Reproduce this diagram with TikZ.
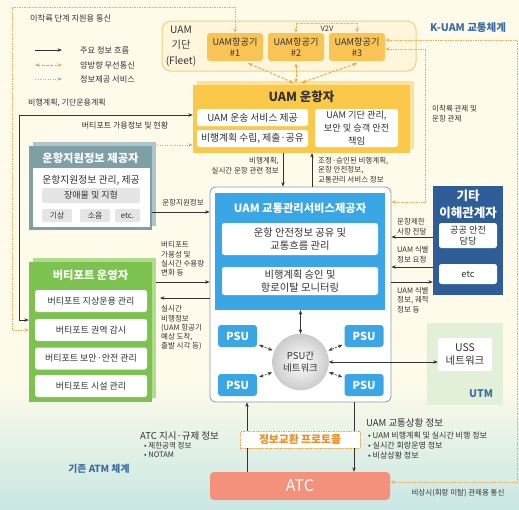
\documentclass[tikz,border=0pt]{standalone}
\usepackage{fontspec}
\setmainfont{Noto Sans CJK KR}
\usetikzlibrary{arrows.meta,calc,shadings}
\definecolor{cream}{HTML}{FFFBEA}
\definecolor{tealbg}{HTML}{C9E7E2}
\definecolor{txt}{HTML}{333333}
\definecolor{orangeln}{HTML}{F5A33A}
\definecolor{dotor}{HTML}{F2AE4E}
\definecolor{lblue}{HTML}{8FB3D0}
\definecolor{acfill}{HTML}{F9C456}
\definecolor{fleetfill}{HTML}{FFF6DC}
\definecolor{fleetdraw}{HTML}{F6CF7A}
\definecolor{opsfill}{HTML}{FBC94A}
\definecolor{opsback}{HTML}{FFE295}
\definecolor{tmblue}{HTML}{3BA6E6}
\definecolor{tmdraw}{HTML}{8D9BA8}
\definecolor{stakec}{HTML}{2E5D98}
\definecolor{provf}{HTML}{7F9FA6}
\definecolor{provb}{HTML}{AFC5C8}
\definecolor{grayb}{HTML}{E5E5E5}
\definecolor{vpf}{HTML}{7CC24E}
\definecolor{vpb}{HTML}{B0DC8E}
\definecolor{atcc}{HTML}{F4917C}
\definecolor{utmg}{HTML}{E2F0DA}
\definecolor{titleblue}{HTML}{3A6EA8}
\definecolor{protor}{HTML}{F08C1E}
\newcommand\fsz[2]{\fontsize{#1}{#2}\selectfont}
\begin{document}
\begin{tikzpicture}[x=1pt,y=-1pt,
  >={Stealth[length=4.5pt,width=3.4pt]},
  arr/.style={draw=txt, line width=0.6pt, ->},
  darr/.style={draw=txt, line width=0.6pt, <->},
  orarr/.style={draw=orangeln, line width=0.9pt, dash pattern=on 2.6pt off 1.6pt, <->},
  kdot/.style={draw=dotor, line width=0.8pt, dash pattern=on 1.2pt off 1.3pt},
  bldot/.style={draw=lblue, line width=0.8pt, dash pattern=on 1.2pt off 1.3pt, ->},
  psud/.style={draw=txt, line width=0.6pt, dash pattern=on 2pt off 1.2pt, <->, shorten <=2pt, shorten >=2pt},
  wb/.style={fill=white, rounded corners=2.5pt, inner sep=0pt, align=center, text=txt, font=\fsz{9}{12.5}},
  gb/.style={fill=grayb, rounded corners=1.5pt, inner sep=0pt, align=center, text=txt, font=\fsz{9}{10}},
  lbl/.style={inner sep=0pt, align=left, text=txt, font=\fsz{7.5}{9.8}},
  ttl/.style={inner sep=0pt, align=center, text=white, font=\bfseries\fsz{11.3}{14}},
  lgd/.style={inner sep=0pt, anchor=west, text=txt, font=\fsz{8.2}{9}},
  acbox/.style={fill=acfill, rounded corners=3pt, minimum width=56pt, minimum height=28pt, inner sep=0pt, align=center, text=txt, font=\fsz{9.2}{11.5}},
  psubox/.style={fill=tmblue, rounded corners=3pt, minimum width=39pt, minimum height=22pt, inner sep=0pt, text=white, font=\bfseries\fsz{11}{12}},
  bigtxt/.style={inner sep=0pt, text=txt, font=\fsz{9.5}{11}}
]
\useasboundingbox (0,0) rectangle (519,509);
% background
\fill[cream] (0,0) rectangle (519,381);
\shade[top color=cream, bottom color=tealbg] (0,380) rectangle (519,509);
\fill[utmg] (427,323) rectangle (503,405);

% region labels
\node[inner sep=0pt, font=\bfseries\fsz{10.5}{12}, text=titleblue] (kuam) at (468,28) {K-UAM 교통체계};
\node[inner sep=0pt, font=\bfseries\fsz{10.5}{12}, text=titleblue] (utm) at (481,394) {UTM};
\node[inner sep=0pt, font=\bfseries\fsz{9.8}{12}, text=titleblue] (atm) at (99,469) {기존 ATM 체계};

% legend
\node[lgd] (lgt) at (30,18) {이착륙 단계 지원용 통신};
\coordinate (lg1a) at (35,50); \coordinate (lg1b) at (62,50);
\coordinate (lg2a) at (35,65); \coordinate (lg2b) at (62,65);
\coordinate (lg3a) at (35,79); \coordinate (lg3b) at (62,79);
\draw[arr] (lg1a) -- (lg1b);
\draw[orarr] (lg2a) -- (lg2b);
\draw[bldot] (lg3a) -- (lg3b);
\node[lgd] (lg1) at (80,50) {주요 정보 흐름};
\node[lgd] (lg2) at (80,65) {양방향 무선통신};
\node[lgd] (lg3) at (80,79) {정보제공 서비스};

% fleet
\node[draw=fleetdraw, fill=fleetfill, line width=1pt, rounded corners=9pt, minimum width=254pt, minimum height=50pt, inner sep=0pt] (fleet) at (289,46) {};
\node[inner sep=0pt, align=center, text=txt, font=\fsz{10.2}{15.5}] (fleetlbl) at (181,46) {UAM\\기단\\(Fleet)};
\node[acbox] (ac1) at (235,47) {UAM항공기\\\#1};
\node[acbox] (ac2) at (296,47) {UAM항공기\\\#2};
\node[acbox] (ac3) at (357,47) {UAM항공기\\\#3};
\coordinate (v2v) at (327,23);
\draw[kdot, <->] (ac2.north) |- (v2v) -| (ac3.north);
\node[inner sep=0pt, text=txt, font=\fsz{7.5}{8}] (v2vl) at (327,29) {V2V};

% ops
\node[fill=opsback, minimum width=217pt, minimum height=68pt, inner sep=0pt] (opsb) at (305.5,115) {};
\node[fill=opsfill, minimum width=217pt, minimum height=68pt, inner sep=0pt] (ops) at (301.5,119) {};
\node[inner sep=0pt, text=txt, font=\bfseries\fsz{12.5}{14}] (opst) at (301.5,97) {UAM 운항자};
\node[wb, minimum width=111pt, minimum height=17pt, font=\fsz{9.8}{12}] (ops1) at (252.5,117.5) {UAM 운송 서비스 제공};
\node[wb, minimum width=111pt, minimum height=17pt, font=\fsz{9.8}{12}] (ops2) at (252.5,138.5) {비행계획 수립, 제출·공유};
\node[wb, minimum width=83pt, minimum height=38pt, font=\fsz{9.2}{12.8}] (ops3) at (356.5,128) {UAM 기단 관리,\\보안 및 승객 안전\\책임};

% aircraft <-> ops
\draw[orarr] ([xshift=13pt,yshift=-2pt]ac1.south) -- ([xshift=-8pt,yshift=2pt]ops.north);
\draw[orarr] ([yshift=-2pt]ac2.south) -- ([yshift=2pt]ac2.south |- ops.north);
\draw[orarr] ([yshift=-2pt]ac3.south) -- ([yshift=2pt]ops.north);

% traffic management
\node[draw=tmdraw, fill=white, rounded corners=6pt, line width=0.8pt, minimum width=181pt, minimum height=215pt, inner sep=0pt] (tmo) at (300.5,294.5) {};
\node[fill=tmblue, minimum width=170pt, minimum height=117pt, inner sep=0pt] (tmi) at (300,251.5) {};
\node[ttl] (tmt) at (300,208) {UAM 교통관리서비스제공자};
\node[wb, minimum width=156pt, minimum height=32pt, font=\fsz{10.3}{13.5}] (tm1) at (300,239) {운항 안전정보 공유 및\\교통흐름 관리};
\node[wb, minimum width=156pt, minimum height=28pt, font=\fsz{10.3}{13.5}] (tm2) at (300,281) {비행계획 승인 및\\항로이탈 모니터링};
\node[psubox] (psu1) at (237.5,336) {PSU};
\node[psubox] (psu2) at (364,336) {PSU};
\node[psubox] (psu3) at (237.5,385) {PSU};
\node[psubox] (psu4) at (364,385) {PSU};
\node[circle, minimum size=56pt, inner sep=0pt, draw=gray!45, inner color=white, outer color=gray!40, align=center, text=txt, font=\fsz{9.5}{12.5}] (net) at (300.5,362) {PSU간\\네트워크};
\draw[darr] (tmi.south -| net.north) -- (net.north);
\draw[psud] (psu1) -- (net);
\draw[psud] (psu2) -- (net);
\draw[psud] (psu3) -- (net);
\draw[psud] (psu4) -- (net);

% ops <-> tm
\coordinate (oa) at (283,153); \coordinate (ob) at (312,153);
\draw[arr] (oa) -- (oa |- tmo.north);
\draw[arr] (ob |- tmo.north) -- (ob);
\node[lbl, anchor=east, align=right] (oal) at (279,166) {비행계획,\\실시간 운항 관련 정보};
\node[lbl, anchor=west] (obl) at (318,170) {조정·승인된 비행계획,\\운항 안전정보,\\교통관리 서비스 정보};

% provider
\node[fill=provb, minimum width=123pt, minimum height=84pt, inner sep=0pt] (provbk) at (94.5,184) {};
\node[fill=provf, minimum width=123pt, minimum height=84pt, inner sep=0pt] (prov) at (90.5,188) {};
\node[ttl] (provt) at (90.5,158) {운항지원정보 제공자};
\node[fill=white, minimum width=117pt, minimum height=59pt, inner sep=0pt] (provin) at (91,197.5) {};
\node[inner sep=0pt, text=txt, font=\fsz{9.8}{11}] (prov1) at (91,180) {운항지원정보 관리, 제공};
\node[gb, minimum width=98pt, minimum height=15pt] (prov2) at (91,195.5) {장애물 및 지형};
\node[gb, minimum width=30pt, minimum height=13pt, font=\fsz{7.8}{9}] (prov3) at (57,215.5) {기상};
\node[gb, minimum width=30pt, minimum height=13pt, font=\fsz{7.8}{9}] (prov4) at (95,215.5) {소음};
\node[gb, minimum width=25pt, minimum height=13pt, font=\fsz{7.8}{9}] (prov5) at (127.5,215.5) {etc.};
\coordinate (pd) at (157,145);
\draw[bldot] (pd) -- (pd -| ops.west);
\coordinate (pa) at (152,212);
\draw[arr] (pa) -- (pa -| tmo.west);
\node[lbl] (pal) at (183,203) {운항지원정보};

% vertiport
\node[fill=vpb, minimum width=123pt, minimum height=140pt, inner sep=0pt] (vpbk) at (94.5,328) {};
\node[fill=vpf, minimum width=123pt, minimum height=140pt, inner sep=0pt] (vp) at (90.5,332) {};
\node[ttl] (vpt) at (90.5,275) {버티포트 운영자};
\node[wb, minimum width=112pt, minimum height=22pt] (vp1) at (91,301) {버티포트 지상운용 관리};
\node[wb, minimum width=112pt, minimum height=22pt] (vp2) at (91,330) {버티포트 권역 감시};
\node[wb, minimum width=112pt, minimum height=22pt] (vp3) at (91,358.5) {버티포트 보안·안전 관리};
\node[wb, minimum width=112pt, minimum height=22pt] (vp4) at (91,386) {버티포트 시설 관리};
\coordinate (va) at (156,282); \coordinate (vb) at (160,298);
\draw[arr] (va) -- (va -| tmo.west);
\draw[arr] (vb -| tmo.west) -- (vb);
\node[lbl, anchor=west, font=\fsz{7.5}{9.3}] (val) at (161,259) {버티포트\\가용성 및\\실시간 수용량\\변화 등};
\node[lbl, anchor=west, font=\fsz{7.5}{9.3}] (vbl) at (161,328) {실시간\\비행정보\\(UAM 항공기\\예상 도착,\\출발 시각 등)};

% ops <-> vertiport left line
\coordinate (lf1) at (19,115); \coordinate (lf2) at (19,320);
\draw[darr] (lf1 -| ops.west) -- (lf1) -- (lf2) -- (lf2 -| vp.west);
\node[lbl, anchor=west, font=\fsz{8}{9}] (lfa) at (28,103) {비행계획, 기단운용계획};
\node[lbl, font=\fsz{8}{9}] (lfb) at (125,125) {버티포트 가용정보 및 현황};

% stakeholders
\node[fill=stakec, minimum width=70pt, minimum height=109pt, inner sep=0pt] (stake) at (468,240.5) {};
\node[ttl, font=\bfseries\fsz{12.5}{17}] (staket) at (468,204) {기타\\이해관계자};
\node[wb, minimum width=58pt, minimum height=25pt, font=\fsz{9.2}{11.5}] (sh1) at (468,235.5) {공공 안전\\담당};
\node[wb, minimum width=58pt, minimum height=20pt, font=\fsz{9.2}{11.5}] (sh2) at (468,274) {etc};
\coordinate (s1) at (420,237); \coordinate (s2) at (420,267); \coordinate (s3) at (420,282);
\draw[arr] (s1 -| stake.west) -- (s1 -| tmo.east);
\draw[arr] (s2 -| stake.west) -- (s2 -| tmo.east);
\draw[arr] (s3 -| tmo.east) -- (s3 -| stake.west);
\node[lbl, anchor=west] (s1l) at (397,227) {운항제한\\사항 전달};
\node[lbl, anchor=west] (s2l) at (397,255) {UAM 식별\\정보 요청};
\node[lbl, anchor=west] (s3l) at (397,300) {UAM 식별\\정보, 궤적\\정보 등};

% USS
\node[wb, minimum width=54pt, minimum height=33pt, font=\fsz{10.5}{13}] (uss) at (465,354.5) {USS\\네트워크};
\draw[darr] (net.east) -- (net.east -| uss.west);

% ATC
\node[fill=atcc, rounded corners=4pt, minimum width=180pt, minimum height=28pt, inner sep=0pt, text=white, font=\fsz{16}{18}] (atc) at (300,486) {ATC};
\coordinate (ta) at (247,470); \coordinate (tb) at (354,470);
\draw[arr] (ta |- atc.north) -- (ta |- tmo.south);
\draw[arr] (tb |- tmo.south) -- (tb |- atc.north);
\node[draw=orangeln, line width=0.7pt, dash pattern=on 1.5pt off 1pt, fill=white, minimum width=120pt, minimum height=17pt, inner sep=0pt, text=protor, font=\bfseries\fsz{10.8}{12}] (proto) at (300,439.5) {정보교환 프로토콜};
\node[bigtxt, anchor=west] (atci) at (140,436) {ATC 지시·규제 정보};
\node[lbl, anchor=north west, font=\fsz{7.5}{9.5}] (atcb) at (144,442) {• 제한공역 정보\\• NOTAM};
\node[bigtxt, anchor=west] (uami) at (366,423) {UAM 교통상황 정보};
\node[lbl, anchor=north west, font=\fsz{8}{9.8}] (uamb) at (368,432) {• UAM 비행계획 및 실시간 비행 정보\\• 실시간 회랑운영 정보\\• 비상상황 정보};

% K-UAM dotted communications
\coordinate (kt) at (12,7); \coordinate (kl) at (12,330);
\draw[kdot, <->] (ac1.north) |- (kt) -- (kl) -- (kl -| vp.west);
\coordinate (kr1) at (425,49); \coordinate (kr2) at (425,202);
\draw[kdot, <->] (kr1 -| ac3.east) -- (kr1) -- (kr2) -- (kr2 -| tmo.east);
\coordinate (kr3) at (517,40); \coordinate (kr4) at (517,482);
\draw[kdot, <->] (kr3 -| ac3.east) -- (kr3) -- (kr4) -- (kr4 -| atc.east);
\node[lbl, anchor=west] (krl) at (432,114) {이착륙 관제 및\\운항 관제};
\node[lbl] (kr4l) at (458,493) {비상시(회랑 이탈) 관제용 통신};
\end{tikzpicture}
\end{document}
